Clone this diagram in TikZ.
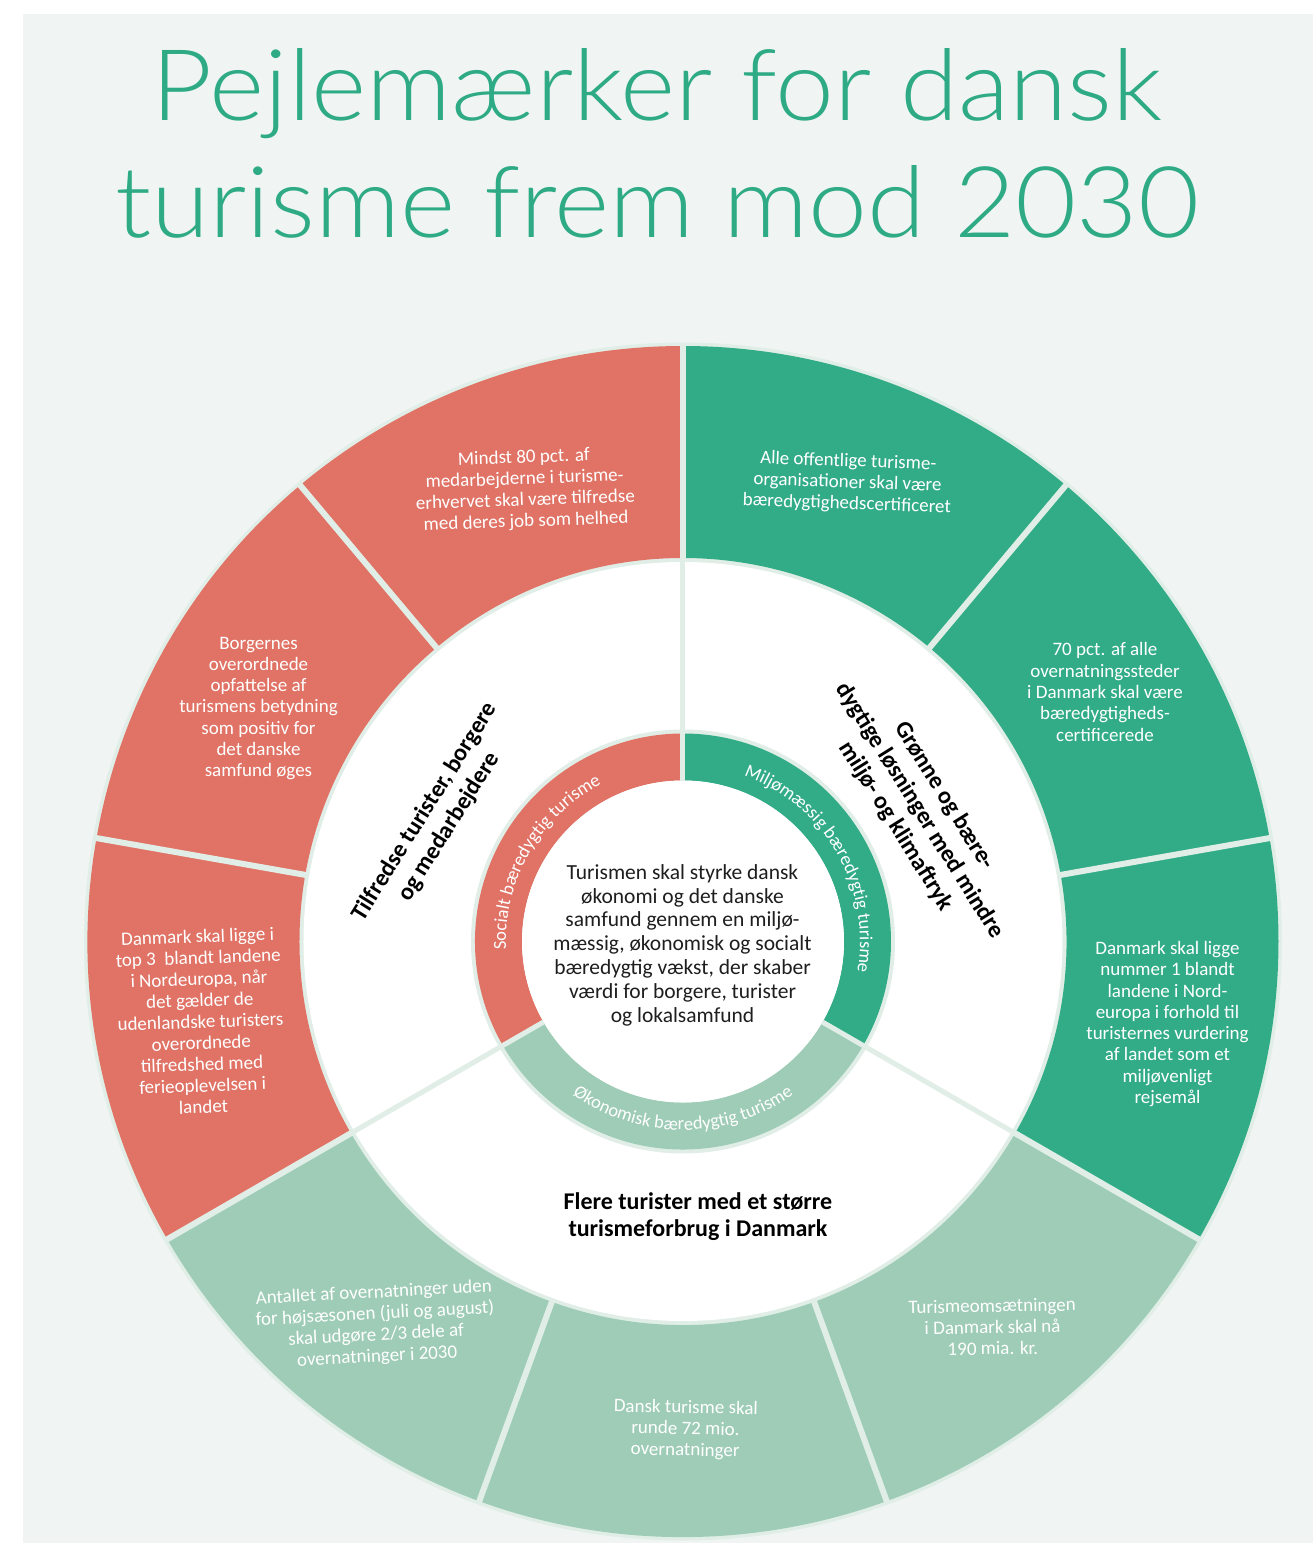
\documentclass[tikz,border=0pt]{standalone}
\usepackage{fontspec}
\setmainfont{Carlito}
\newfontfamily\titlefont{Lato Light}
\usetikzlibrary{decorations.text}

\definecolor{bgc}{RGB}{240,245,243}
\definecolor{sepc}{RGB}{224,238,231}
\definecolor{redc}{RGB}{224,115,101}
\definecolor{greenc}{RGB}{50,172,134}
\definecolor{lightc}{RGB}{158,204,182}
\definecolor{titlec}{RGB}{46,170,132}
\definecolor{darktext}{RGB}{30,30,30}

\newcommand\annsec[5]{\fill[#1] (#2:#4) arc[start angle=#2,end angle=#3,radius=#4] -- (#3:#5) arc[start angle=#3,end angle=#2,radius=#5] -- cycle;}
\newcommand\segfont{\fontsize{19pt}{21.3pt}\selectfont}
\newcommand\midfont{\fontsize{24pt}{27pt}\selectfont\bfseries}
\newcommand\midfontwide{\fontsize{24pt}{28.5pt}\selectfont\bfseries}
\newcommand\ctrfont{\fontsize{21.5pt}{23.8pt}\selectfont}
\newcommand\arcfont{\fontsize{18.5pt}{20pt}\selectfont}

\tikzset{
  segtext/.style={align=center, text=white, font=\segfont, inner sep=0pt},
  midtext/.style={align=center, text=black, font=\midfont, inner sep=0pt},
  midtextrot/.style={align=center, text=black, font=\midfontwide, inner sep=0pt},
  ctrtext/.style={align=center, text=darktext, font=\ctrfont, inner sep=0pt},
  titletext/.style={anchor=base, text=titlec, font=\titlefont\fontsize{99pt}{99pt}\selectfont, inner sep=0pt},
  divider/.style={draw=sepc, line width=6pt},
  thindivider/.style={draw=sepc, line width=5pt},
  arclabel/.style={decorate, decoration={text along path, text align=center, text color=white, text={|\arcfont|#1}}}
}

\begin{document}
\begin{tikzpicture}[x=1pt,y=1pt]
\useasboundingbox (-683,-601.5) rectangle (630,941.5);
\fill[white] (-683,-601.5) rectangle (630,941.5);
\fill[bgc] (-660,-601.5) rectangle (630,927.5);

% title
\node[titletext] (t1) at (-26,820.5) {\scalebox{1.067}[1]{Pejlemærker for dansk}};
\node[titletext] (t2) at (-26,703.5) {\scalebox{1.067}[1]{turisme frem mod 2030}};

% rings
\fill[sepc] (0,0) circle (599pt);
\annsec{redc}{90}{210}{383.5pt}{595.5pt}
\annsec{lightc}{210}{330}{383.5pt}{595.5pt}
\annsec{greenc}{-30}{90}{383.5pt}{595.5pt}
\fill[white] (0,0) circle (379.5pt);
\fill[sepc] (0,0) circle (212pt);
\annsec{redc}{90}{210}{161pt}{208pt}
\annsec{lightc}{210}{330}{161pt}{208pt}
\annsec{greenc}{-30}{90}{161pt}{208pt}
\fill[white] (0,0) circle (161pt);

% dividers
\foreach \a in {10,50,90,130,170,210,250,290,330}
  \draw[divider] (\a:380pt) -- (\a:598pt);
\foreach \a in {90,210,330}
  \draw[thindivider] (\a:161pt) -- (\a:381pt);

% curved labels of inner ring
\path[arclabel={Socialt bæredygtig turisme}] (210:177pt) arc[start angle=210, end angle=90, radius=177pt];
\path[arclabel={Miljømæssig bæredygtig turisme}] (90:177pt) arc[start angle=90, end angle=-30, radius=177pt];
\path[arclabel={Økonomisk bæredygtig turisme}] (210:188.5pt) arc[start angle=210, end angle=330, radius=188.5pt];

% segment texts
\node[segtext, rotate=2] (s1) at (-158,451.5) {Mindst 80 pct. af\\medarbejderne i turisme-\\erhvervet skal være tilfredse\\med deres job som helhed};
\node[segtext] (s2) at (-424.5,233) {Borgernes\\overordnede\\opfattelse af\\turismens betydning\\som positiv for\\det danske\\samfund øges};
\node[segtext, rotate=2] (s3) at (-482.5,-80) {Danmark skal ligge i\\top 3~ blandt landene\\i Nordeuropa, når\\det gælder de\\udenlandske turisters\\overordnede\\tilfredshed med\\ferieoplevelsen i\\landet};
\node[segtext, rotate=-2] (s4) at (164.5,458.5) {Alle offentlige turisme-\\organisationer skal være\\bæredygtighedscertificeret};
\node[segtext] (s5) at (422,249.5) {70 pct. af alle\\overnatningssteder\\i Danmark skal være\\bæredygtigheds-\\certificerede};
\node[segtext] (s6) at (484.5,-82.5) {Danmark skal ligge\\nummer 1 blandt\\landene i Nord-\\europa i forhold til\\turisternes vurdering\\af landet som et\\miljøvenligt\\rejsemål};
\node[segtext, rotate=3] (s7) at (-307.5,-383.5) {Antallet af overnatninger uden\\for højsæsonen (juli og august)\\skal udgøre 2/3 dele af\\overnatninger i 2030};
\node[segtext, rotate=-1] (s8) at (2.5,-488) {Dansk turisme skal\\runde 72 mio.\\overnatninger};
\node[segtext, rotate=1] (s9) at (309.5,-385.5) {Turismeomsætningen\\i Danmark skal nå\\190 mia. kr.};

% middle ring labels
\node[midtextrot, rotate=58] (m1) at (-246,122) {Tilfredse turister, borgere\\og medarbejdere};
\node[midtextrot, rotate=-58] (m2) at (237,130.5) {Grønne og bære-\\dygtige løsninger med mindre\\miljø- og klimaftryk};
\node[midtext] (m3) at (15,-275.5) {Flere turister med et større\\turismeforbrug i Danmark};

% centre
\node[ctrtext] (ctr) at (-0.5,-3.5) {Turismen skal styrke dansk\\økonomi og det danske\\samfund gennem en miljø-\\mæssig, økonomisk og socialt\\bæredygtig vækst, der skaber\\værdi for borgere, turister\\og lokalsamfund};
\end{tikzpicture}
\end{document}
